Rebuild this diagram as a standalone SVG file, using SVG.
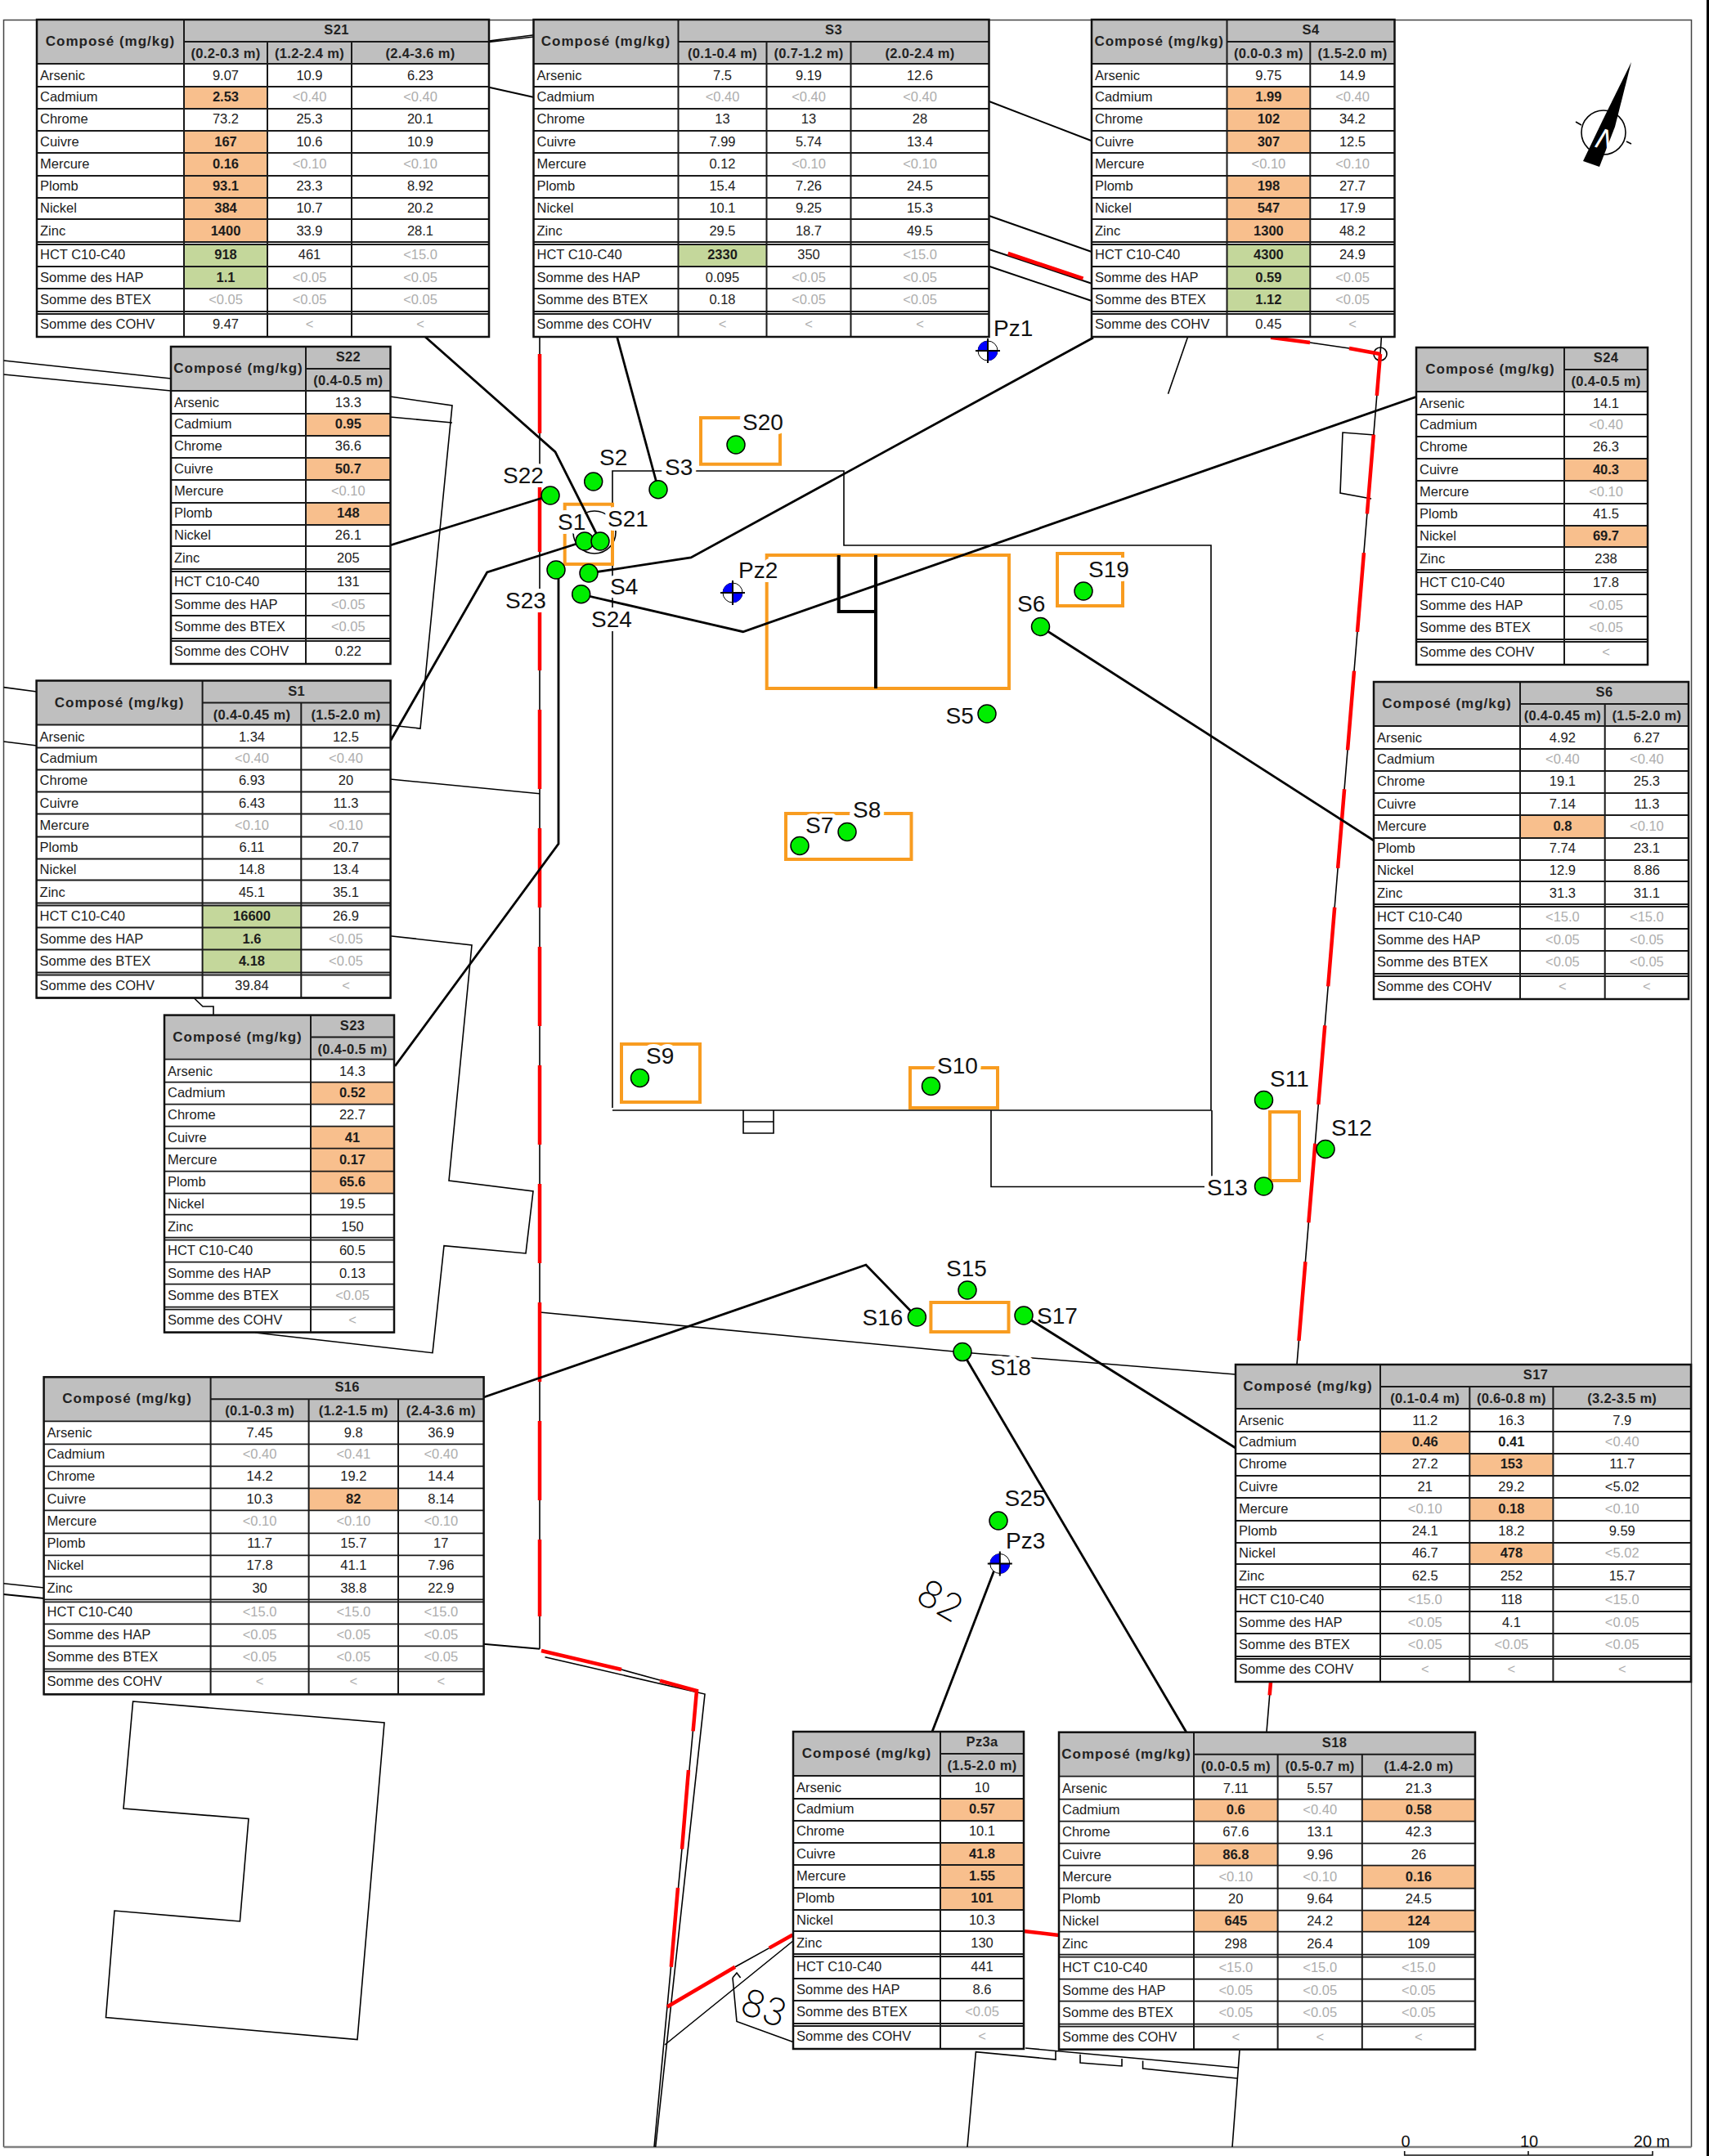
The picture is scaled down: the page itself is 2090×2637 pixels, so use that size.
<svg xmlns="http://www.w3.org/2000/svg" width="2090" height="2637" viewBox="0 0 2090 2637">
<style>
text{font-family:"Liberation Sans",Arial,sans-serif;fill:#1c1c1c}
.l{font-size:16.5px}
.v{font-size:16.5px;text-anchor:middle}
.g{font-size:16.5px;text-anchor:middle;fill:#adadad}
.b{font-size:16.5px;text-anchor:middle;font-weight:bold}
.h{font-size:17px;letter-spacing:1px;text-anchor:middle;font-weight:bold;fill:#222}
.s{font-size:16.5px;letter-spacing:.3px;text-anchor:middle;font-weight:bold;fill:#222}
.bg{fill:#fff}
.hd{fill:#bfbfbf}
.o{fill:#f8bf8d}
.k{fill:#c4d79b}
.bd{fill:none;stroke:#111;stroke-width:2.5}
.gl{fill:none;stroke:#1a1a1a;stroke-width:2}
.rl{fill:none;stroke:#1a1a1a;stroke-width:1.8;vector-effect:non-scaling-stroke}
.t{fill:none;stroke:#000;stroke-width:1.6}
.c{fill:none;stroke:#000;stroke-width:2.8}
.r{fill:none;stroke:#f00;stroke-width:4.5}
.a{fill:none;stroke:#f89c20;stroke-width:4}
.n{fill:#00ee00;stroke:#000;stroke-width:1.5}
.m{font-size:28px;fill:#111;stroke:#fff;stroke-width:10px;paint-order:stroke;stroke-linejoin:round}
.m2{font-size:28px;fill:#111}
.d{font-family:Inter,"Liberation Sans",sans-serif;font-weight:200;font-size:46px;fill:#000;text-anchor:middle}
.u{font-size:20px;fill:#111;text-anchor:middle}
</style>
<defs>
<path id="r" class="rl" d="M0 54H1M0 82H1M0 109H1M0 136H1M0 163H1M0 191H1M0 218H1M0 244H1M0 272H1M0 275H1M0 302H1M0 329H1M0 357H1M0 360H1M0 388H1"/>
<g id="pz"><circle r="12" fill="#fff" stroke="#000"/><path d="M0 0V-12A12 12 0 0 0 -12 0ZM0 0V12A12 12 0 0 0 12 0Z" fill="#00f"/><path d="M-15 0H15M0 -15V15" stroke="#000" stroke-width="2"/></g>
</defs>
<rect width="2090" height="2637" fill="#fff"/>
<g id="frame">
<path d="M4.5 2626V24.5H2068.5V2626" fill="none" stroke="#444" stroke-width="1.5"/>
<path d="M4.5 2626H2068.5" fill="none" stroke="#808080" stroke-width="2.5"/>
<rect x="2087" y="0" width="3" height="2637" fill="#000"/>
</g>
<g id="map">
<path class="t" d="M4.5 441L209 463M4.5 458L209 478M477 485L553 496L514 891L477 887M477 510L553 517"/>
<path class="t" d="M4.5 840.6L45 846M4.5 907L45 912M477 953L660 970.7"/>
<path class="t" d="M477 1144.7L577 1156L549 1444L652 1457L643 1533L543 1523.6L529 1654.7L312 1630"/>
<path class="t" d="M236.6 1220L248 1231H261V1241"/>
<path class="t" d="M4.5 1936.7L54 1942"/>
<path class="c" style="stroke-width:2" d="M4.5 1950L54 1955M591 2010.7L660 2016.7"/>
<path class="t" d="M598 50L653 42.7M598 51.5L653 45"/>
<path class="c" style="stroke-width:2" d="M598 106.7L653 119M1209.7 124L1335 172.3M1209.7 264L1335 308M1209.7 305L1335 346.7M1209.7 325.7L1335 368"/>
<path class="t" d="M1452.6 412L1428.5 481.7"/>
<path class="t" d="M1681 532L1642 529L1639 603L1677 610"/>
<path class="t" d="M162.6 2081L470 2107L437 2494.6L129.5 2467.6L140 2337L293.4 2350L304 2224.5L151 2212Z"/>
<path class="t" d="M749 1355V576H1032V667H1481V1358H749M1212 1358V1451.5H1473M1482 1358V1442"/>
<path class="t" d="M909 1358V1386H946V1358M909 1372H946"/>
<circle class="t" cx="727" cy="651" r="26"/>
<path class="t" d="M660 1605L1177 1654L1511 1681"/>
<path class="t" d="M660 412V2016.7M760 2042L807 2055M666.5 2026.7L862 2072L801.7 2626M852 2068L800 2626"/>
<path class="t" d="M1689.4 412L1688 433L1586 1669L1549 2118M1602 419L1650 426M1516 2507L1507 2626"/>
<circle class="t" cx="1688" cy="433" r="8"/>
<path class="t" d="M899 2405.8L940.7 2382.6M969.8 2374L813 2501"/>
<path class="t" d="M896 2419L901 2413L905.6 2419M896 2419L901 2472.5L969.8 2497.6"/>
<path class="t" d="M1254 2505L1514 2529M1513 2542L1397.6 2530V2520.5M1372 2518V2527L1321 2523V2512.7M1291 2509V2519L1193.4 2509.6L1183 2626"/>
<path class="a" d="M857 511H954V567.7H857Z"/>
<path class="a" d="M690.7 616.7H749V690H690.7Z"/>
<path class="a" d="M937.7 679H1234V842H937.7Z"/>
<path class="a" d="M1293 677H1373V741H1293Z"/>
<path class="a" d="M961 995H1114.5V1051H961Z"/>
<path class="a" d="M760 1277H856V1348H760Z"/>
<path class="a" d="M1113 1306H1220V1355H1113Z"/>
<path class="a" d="M1553 1360H1589V1444H1553Z"/>
<path class="a" d="M1138.4 1593H1233.5V1629H1138.4Z"/>
<path d="M1025.7 679V748H1071M1071 679V842" fill="none" stroke="#000" stroke-width="4"/>
<path class="r" d="M660 433V1977" stroke-dasharray="97 48"/>
<path class="r" d="M1688 433L1549 2118" stroke-dasharray="97 48" stroke-dashoffset="46"/>
<path class="r" d="M1554 412.7L1602 419M1650 426L1688 433M1232.7 310L1324.5 340.7M662 2019L760 2042M807 2055.6L852 2068L847.6 2117.4M842 2165L834 2261.6M829 2309L820.8 2405.8M816 2454.5L899 2405.8M940.7 2382.6L969.4 2366.5M1252 2362L1295 2367"/>
<text class="d" transform="translate(1150 1958) rotate(30)" y="16">82</text>
<text class="d" transform="translate(934 2456) rotate(20)" y="16">83</text>
</g>
<g id="labels-halo">
<text class="m" x="908" y="526">S20</text>
<text class="m" x="733" y="569">S2</text>
<text class="m" x="813" y="581">S3</text>
<text class="m" x="615" y="591">S22</text>
<text class="m" x="682" y="648">S1</text>
<text class="m" x="743" y="644">S21</text>
<text class="m" x="746" y="727">S4</text>
<text class="m" x="618" y="744">S23</text>
<text class="m" x="723" y="767">S24</text>
<text class="m" x="903" y="707">Pz2</text>
<text class="m" x="1215" y="411">Pz1</text>
<text class="m" x="1331" y="706">S19</text>
<text class="m" x="1244" y="748">S6</text>
<text class="m" x="1156.5" y="885">S5</text>
<text class="m" x="985" y="1019">S7</text>
<text class="m" x="1043" y="1000">S8</text>
<text class="m" x="790" y="1301">S9</text>
<text class="m" x="1146" y="1313">S10</text>
<text class="m" x="1553" y="1329">S11</text>
<text class="m" x="1628" y="1389">S12</text>
<text class="m" x="1476" y="1462">S13</text>
<text class="m" x="1157" y="1561">S15</text>
<text class="m" x="1054.5" y="1621">S16</text>
<text class="m" x="1268" y="1619">S17</text>
<text class="m" x="1211" y="1682">S18</text>
<text class="m2" x="1228.6" y="1842">S25</text>
<text class="m2" x="1230" y="1894">Pz3</text>
</g>
<g id="connectors">
<path class="c" d="M754.6 412L805 598"/>
<path class="c" d="M520 412L679 552.7L734 662"/>
<path class="c" d="M1337 413L845 682L720 701"/>
<path class="c" d="M477 667L673 606"/>
<path class="c" d="M477.7 905.7L595.7 700L715 662"/>
<path class="c" d="M483 1304L683 1032V697"/>
<path class="c" d="M1733 485L908.7 772.7L711 727"/>
<path class="c" d="M1272.5 766.5L1680 1028"/>
<path class="c" d="M591.5 1709L1059 1547L1121 1611"/>
<path class="c" d="M1252 1609L1511 1771"/>
<path class="c" d="M1177 1654L1451 2119"/>
<path class="c" d="M1216.5 1919L1140 2118"/>
</g>
<g id="nodes">
<g id="S20"><circle class="n" cx="900" cy="544" r="11"/></g>
<g id="S2"><circle class="n" cx="725.7" cy="589" r="11"/></g>
<g id="S3"><circle class="n" cx="805" cy="598.7" r="11"/></g>
<g id="S22"><circle class="n" cx="673" cy="606" r="11"/></g>
<g id="S1"><circle class="n" cx="715" cy="662" r="11"/></g>
<g id="S21"><circle class="n" cx="734" cy="662" r="11"/></g>
<g id="S23"><circle class="n" cx="680" cy="697" r="11"/></g>
<g id="S4"><circle class="n" cx="720" cy="701" r="11"/></g>
<g id="S24"><circle class="n" cx="710.7" cy="726.7" r="11"/></g>
<g id="S19"><circle class="n" cx="1325" cy="723" r="11"/></g>
<g id="S6"><circle class="n" cx="1272.5" cy="766.5" r="11"/></g>
<g id="S5"><circle class="n" cx="1207" cy="873" r="11"/></g>
<g id="S7"><circle class="n" cx="978" cy="1034.5" r="11"/></g>
<g id="S8"><circle class="n" cx="1036" cy="1017.5" r="11"/></g>
<g id="S9"><circle class="n" cx="782.5" cy="1318.5" r="11"/></g>
<g id="S10"><circle class="n" cx="1138.5" cy="1328.5" r="11"/></g>
<g id="S11"><circle class="n" cx="1545.5" cy="1345.5" r="11"/></g>
<g id="S12"><circle class="n" cx="1621" cy="1405.5" r="11"/></g>
<g id="S13"><circle class="n" cx="1545.5" cy="1451" r="11"/></g>
<g id="S15"><circle class="n" cx="1183" cy="1578" r="11"/></g>
<g id="S16"><circle class="n" cx="1121.4" cy="1611" r="11"/></g>
<g id="S17"><circle class="n" cx="1252" cy="1609" r="11"/></g>
<g id="S18"><circle class="n" cx="1177" cy="1653.6" r="11"/></g>
<g id="S25"><circle class="n" cx="1221" cy="1860" r="11"/></g>
<g id="Pz1"><use href="#pz" transform="translate(1208 429)"/></g>
<g id="Pz2"><use href="#pz" transform="translate(896 725)"/></g>
<g id="Pz3"><use href="#pz" transform="translate(1222.8 1912.5)"/></g>
</g>
<g id="north-arrow">
<circle class="t" cx="1961" cy="162" r="27"/>
<path class="t" d="M1927 149L1934 153M1989 173L1995 176"/>
<path d="M1995 76L1975 155L1956 204L1936 197L1960 147Z" fill="#000"/>
<text transform="translate(1949 179) rotate(20)" style="font-size:36px;font-style:italic;fill:#fff">N</text>
</g>
<g id="scale">
<path d="M1717.7 2631V2636H2021V2631M1869 2631V2636" fill="none" stroke="#111" stroke-width="1.6"/>
<text class="u" x="1719" y="2626">0</text>
<text class="u" x="1870" y="2626">10</text>
<text class="u" x="2020" y="2626">20 m</text>
</g>

<g id="table-S21" transform="translate(45 24)">
<rect class="bg" width="553" height="388"/><rect class="hd" width="553" height="54"/>
<rect class="o" x="180" y="82" width="102" height="27"/><rect class="o" x="180" y="136" width="102" height="27"/><rect class="o" x="180" y="163" width="102" height="28"/><rect class="o" x="180" y="191" width="102" height="27"/><rect class="o" x="180" y="218" width="102" height="26"/><rect class="o" x="180" y="244" width="102" height="28"/><rect class="k" x="180" y="275" width="102" height="27"/><rect class="k" x="180" y="302" width="102" height="27"/>
<use href="#r" transform="scale(553 1)"/><path class="gl" d="M180 0V388M282 27V388M385 27V388M180 27H553"/><rect class="bd" width="553" height="388"/>
<text class="h" x="90" y="32">Composé (mg/kg)</text><text class="s" x="366.5" y="18">S21</text>
<text class="s" x="231" y="47">(0.2-0.3 m)</text><text class="s" x="333.5" y="47">(1.2-2.4 m)</text><text class="s" x="469" y="47">(2.4-3.6 m)</text>
<text class="l" x="4" y="74">Arsenic</text><text class="v" x="231" y="74">9.07</text><text class="v" x="333.5" y="74">10.9</text><text class="v" x="469" y="74">6.23</text>
<text class="l" x="4" y="100">Cadmium</text><text class="b" x="231" y="100">2.53</text><text class="g" x="333.5" y="100">&lt;0.40</text><text class="g" x="469" y="100">&lt;0.40</text>
<text class="l" x="4" y="127">Chrome</text><text class="v" x="231" y="127">73.2</text><text class="v" x="333.5" y="127">25.3</text><text class="v" x="469" y="127">20.1</text>
<text class="l" x="4" y="155">Cuivre</text><text class="b" x="231" y="155">167</text><text class="v" x="333.5" y="155">10.6</text><text class="v" x="469" y="155">10.9</text>
<text class="l" x="4" y="182">Mercure</text><text class="b" x="231" y="182">0.16</text><text class="g" x="333.5" y="182">&lt;0.10</text><text class="g" x="469" y="182">&lt;0.10</text>
<text class="l" x="4" y="209">Plomb</text><text class="b" x="231" y="209">93.1</text><text class="v" x="333.5" y="209">23.3</text><text class="v" x="469" y="209">8.92</text>
<text class="l" x="4" y="236">Nickel</text><text class="b" x="231" y="236">384</text><text class="v" x="333.5" y="236">10.7</text><text class="v" x="469" y="236">20.2</text>
<text class="l" x="4" y="264">Zinc</text><text class="b" x="231" y="264">1400</text><text class="v" x="333.5" y="264">33.9</text><text class="v" x="469" y="264">28.1</text>
<text class="l" x="4" y="293">HCT C10-C40</text><text class="b" x="231" y="293">918</text><text class="v" x="333.5" y="293">461</text><text class="g" x="469" y="293">&lt;15.0</text>
<text class="l" x="4" y="321">Somme des HAP</text><text class="b" x="231" y="321">1.1</text><text class="g" x="333.5" y="321">&lt;0.05</text><text class="g" x="469" y="321">&lt;0.05</text>
<text class="l" x="4" y="348">Somme des BTEX</text><text class="g" x="231" y="348">&lt;0.05</text><text class="g" x="333.5" y="348">&lt;0.05</text><text class="g" x="469" y="348">&lt;0.05</text>
<text class="l" x="4" y="378">Somme des COHV</text><text class="v" x="231" y="378">9.47</text><text class="g" x="333.5" y="378">&lt;</text><text class="g" x="469" y="378">&lt;</text>
</g>

<g id="table-S3" transform="translate(652.5 24)">
<rect class="bg" width="557" height="388"/><rect class="hd" width="557" height="54"/>
<rect class="k" x="177" y="275" width="108" height="27"/>
<use href="#r" transform="scale(557 1)"/><path class="gl" d="M177 0V388M285 27V388M388 27V388M177 27H557"/><rect class="bd" width="557" height="388"/>
<text class="h" x="88.5" y="32">Composé (mg/kg)</text><text class="s" x="367" y="18">S3</text>
<text class="s" x="231" y="47">(0.1-0.4 m)</text><text class="s" x="336.5" y="47">(0.7-1.2 m)</text><text class="s" x="472.5" y="47">(2.0-2.4 m)</text>
<text class="l" x="4" y="74">Arsenic</text><text class="v" x="231" y="74">7.5</text><text class="v" x="336.5" y="74">9.19</text><text class="v" x="472.5" y="74">12.6</text>
<text class="l" x="4" y="100">Cadmium</text><text class="g" x="231" y="100">&lt;0.40</text><text class="g" x="336.5" y="100">&lt;0.40</text><text class="g" x="472.5" y="100">&lt;0.40</text>
<text class="l" x="4" y="127">Chrome</text><text class="v" x="231" y="127">13</text><text class="v" x="336.5" y="127">13</text><text class="v" x="472.5" y="127">28</text>
<text class="l" x="4" y="155">Cuivre</text><text class="v" x="231" y="155">7.99</text><text class="v" x="336.5" y="155">5.74</text><text class="v" x="472.5" y="155">13.4</text>
<text class="l" x="4" y="182">Mercure</text><text class="v" x="231" y="182">0.12</text><text class="g" x="336.5" y="182">&lt;0.10</text><text class="g" x="472.5" y="182">&lt;0.10</text>
<text class="l" x="4" y="209">Plomb</text><text class="v" x="231" y="209">15.4</text><text class="v" x="336.5" y="209">7.26</text><text class="v" x="472.5" y="209">24.5</text>
<text class="l" x="4" y="236">Nickel</text><text class="v" x="231" y="236">10.1</text><text class="v" x="336.5" y="236">9.25</text><text class="v" x="472.5" y="236">15.3</text>
<text class="l" x="4" y="264">Zinc</text><text class="v" x="231" y="264">29.5</text><text class="v" x="336.5" y="264">18.7</text><text class="v" x="472.5" y="264">49.5</text>
<text class="l" x="4" y="293">HCT C10-C40</text><text class="b" x="231" y="293">2330</text><text class="v" x="336.5" y="293">350</text><text class="g" x="472.5" y="293">&lt;15.0</text>
<text class="l" x="4" y="321">Somme des HAP</text><text class="v" x="231" y="321">0.095</text><text class="g" x="336.5" y="321">&lt;0.05</text><text class="g" x="472.5" y="321">&lt;0.05</text>
<text class="l" x="4" y="348">Somme des BTEX</text><text class="v" x="231" y="348">0.18</text><text class="g" x="336.5" y="348">&lt;0.05</text><text class="g" x="472.5" y="348">&lt;0.05</text>
<text class="l" x="4" y="378">Somme des COHV</text><text class="g" x="231" y="378">&lt;</text><text class="g" x="336.5" y="378">&lt;</text><text class="g" x="472.5" y="378">&lt;</text>
</g>

<g id="table-S4" transform="translate(1335 24)">
<rect class="bg" width="370.5" height="388"/><rect class="hd" width="370.5" height="54"/>
<rect class="o" x="165.5" y="82" width="102" height="27"/><rect class="o" x="165.5" y="109" width="102" height="27"/><rect class="o" x="165.5" y="136" width="102" height="27"/><rect class="o" x="165.5" y="191" width="102" height="27"/><rect class="o" x="165.5" y="218" width="102" height="26"/><rect class="o" x="165.5" y="244" width="102" height="28"/><rect class="k" x="165.5" y="275" width="102" height="27"/><rect class="k" x="165.5" y="302" width="102" height="27"/><rect class="k" x="165.5" y="329" width="102" height="28"/>
<use href="#r" transform="scale(370.5 1)"/><path class="gl" d="M165.5 0V388M267.3 27V388M165.5 27H370.5"/><rect class="bd" width="370.5" height="388"/>
<text class="h" x="82.7" y="32">Composé (mg/kg)</text><text class="s" x="268" y="18">S4</text>
<text class="s" x="216.4" y="47">(0.0-0.3 m)</text><text class="s" x="319" y="47">(1.5-2.0 m)</text>
<text class="l" x="4" y="74">Arsenic</text><text class="v" x="216.4" y="74">9.75</text><text class="v" x="319" y="74">14.9</text>
<text class="l" x="4" y="100">Cadmium</text><text class="b" x="216.4" y="100">1.99</text><text class="g" x="319" y="100">&lt;0.40</text>
<text class="l" x="4" y="127">Chrome</text><text class="b" x="216.4" y="127">102</text><text class="v" x="319" y="127">34.2</text>
<text class="l" x="4" y="155">Cuivre</text><text class="b" x="216.4" y="155">307</text><text class="v" x="319" y="155">12.5</text>
<text class="l" x="4" y="182">Mercure</text><text class="g" x="216.4" y="182">&lt;0.10</text><text class="g" x="319" y="182">&lt;0.10</text>
<text class="l" x="4" y="209">Plomb</text><text class="b" x="216.4" y="209">198</text><text class="v" x="319" y="209">27.7</text>
<text class="l" x="4" y="236">Nickel</text><text class="b" x="216.4" y="236">547</text><text class="v" x="319" y="236">17.9</text>
<text class="l" x="4" y="264">Zinc</text><text class="b" x="216.4" y="264">1300</text><text class="v" x="319" y="264">48.2</text>
<text class="l" x="4" y="293">HCT C10-C40</text><text class="b" x="216.4" y="293">4300</text><text class="v" x="319" y="293">24.9</text>
<text class="l" x="4" y="321">Somme des HAP</text><text class="b" x="216.4" y="321">0.59</text><text class="g" x="319" y="321">&lt;0.05</text>
<text class="l" x="4" y="348">Somme des BTEX</text><text class="b" x="216.4" y="348">1.12</text><text class="g" x="319" y="348">&lt;0.05</text>
<text class="l" x="4" y="378">Somme des COHV</text><text class="v" x="216.4" y="378">0.45</text><text class="g" x="319" y="378">&lt;</text>
</g>

<g id="table-S22" transform="translate(209 424)">
<rect class="bg" width="268.5" height="388"/><rect class="hd" width="268.5" height="54"/>
<rect class="o" x="165" y="82" width="103.5" height="27"/><rect class="o" x="165" y="136" width="103.5" height="27"/><rect class="o" x="165" y="191" width="103.5" height="27"/>
<use href="#r" transform="scale(268.5 1)"/><path class="gl" d="M165 0V388M165 27H268.5"/><rect class="bd" width="268.5" height="388"/>
<text class="h" x="82.5" y="32">Composé (mg/kg)</text><text class="s" x="216.8" y="18">S22</text>
<text class="s" x="216.8" y="47">(0.4-0.5 m)</text>
<text class="l" x="4" y="74">Arsenic</text><text class="v" x="216.8" y="74">13.3</text>
<text class="l" x="4" y="100">Cadmium</text><text class="b" x="216.8" y="100">0.95</text>
<text class="l" x="4" y="127">Chrome</text><text class="v" x="216.8" y="127">36.6</text>
<text class="l" x="4" y="155">Cuivre</text><text class="b" x="216.8" y="155">50.7</text>
<text class="l" x="4" y="182">Mercure</text><text class="g" x="216.8" y="182">&lt;0.10</text>
<text class="l" x="4" y="209">Plomb</text><text class="b" x="216.8" y="209">148</text>
<text class="l" x="4" y="236">Nickel</text><text class="v" x="216.8" y="236">26.1</text>
<text class="l" x="4" y="264">Zinc</text><text class="v" x="216.8" y="264">205</text>
<text class="l" x="4" y="293">HCT C10-C40</text><text class="v" x="216.8" y="293">131</text>
<text class="l" x="4" y="321">Somme des HAP</text><text class="g" x="216.8" y="321">&lt;0.05</text>
<text class="l" x="4" y="348">Somme des BTEX</text><text class="g" x="216.8" y="348">&lt;0.05</text>
<text class="l" x="4" y="378">Somme des COHV</text><text class="v" x="216.8" y="378">0.22</text>
</g>

<g id="table-S24" transform="translate(1732 425)">
<rect class="bg" width="283" height="388"/><rect class="hd" width="283" height="54"/>
<rect class="o" x="181" y="136" width="102" height="27"/><rect class="o" x="181" y="218" width="102" height="26"/>
<use href="#r" transform="scale(283 1)"/><path class="gl" d="M181 0V388M181 27H283"/><rect class="bd" width="283" height="388"/>
<text class="h" x="90.5" y="32">Composé (mg/kg)</text><text class="s" x="232" y="18">S24</text>
<text class="s" x="232" y="47">(0.4-0.5 m)</text>
<text class="l" x="4" y="74">Arsenic</text><text class="v" x="232" y="74">14.1</text>
<text class="l" x="4" y="100">Cadmium</text><text class="g" x="232" y="100">&lt;0.40</text>
<text class="l" x="4" y="127">Chrome</text><text class="v" x="232" y="127">26.3</text>
<text class="l" x="4" y="155">Cuivre</text><text class="b" x="232" y="155">40.3</text>
<text class="l" x="4" y="182">Mercure</text><text class="g" x="232" y="182">&lt;0.10</text>
<text class="l" x="4" y="209">Plomb</text><text class="v" x="232" y="209">41.5</text>
<text class="l" x="4" y="236">Nickel</text><text class="b" x="232" y="236">69.7</text>
<text class="l" x="4" y="264">Zinc</text><text class="v" x="232" y="264">238</text>
<text class="l" x="4" y="293">HCT C10-C40</text><text class="v" x="232" y="293">17.8</text>
<text class="l" x="4" y="321">Somme des HAP</text><text class="g" x="232" y="321">&lt;0.05</text>
<text class="l" x="4" y="348">Somme des BTEX</text><text class="g" x="232" y="348">&lt;0.05</text>
<text class="l" x="4" y="378">Somme des COHV</text><text class="g" x="232" y="378">&lt;</text>
</g>

<g id="table-S1" transform="translate(44.6 832.5)">
<rect class="bg" width="433" height="388"/><rect class="hd" width="433" height="54"/>
<rect class="k" x="203" y="275" width="120.7" height="27"/><rect class="k" x="203" y="302" width="120.7" height="27"/><rect class="k" x="203" y="329" width="120.7" height="28"/>
<use href="#r" transform="scale(433 1)"/><path class="gl" d="M203 0V388M323.7 27V388M203 27H433"/><rect class="bd" width="433" height="388"/>
<text class="h" x="101.5" y="32">Composé (mg/kg)</text><text class="s" x="318" y="18">S1</text>
<text class="s" x="263.4" y="47">(0.4-0.45 m)</text><text class="s" x="378.4" y="47">(1.5-2.0 m)</text>
<text class="l" x="4" y="74">Arsenic</text><text class="v" x="263.4" y="74">1.34</text><text class="v" x="378.4" y="74">12.5</text>
<text class="l" x="4" y="100">Cadmium</text><text class="g" x="263.4" y="100">&lt;0.40</text><text class="g" x="378.4" y="100">&lt;0.40</text>
<text class="l" x="4" y="127">Chrome</text><text class="v" x="263.4" y="127">6.93</text><text class="v" x="378.4" y="127">20</text>
<text class="l" x="4" y="155">Cuivre</text><text class="v" x="263.4" y="155">6.43</text><text class="v" x="378.4" y="155">11.3</text>
<text class="l" x="4" y="182">Mercure</text><text class="g" x="263.4" y="182">&lt;0.10</text><text class="g" x="378.4" y="182">&lt;0.10</text>
<text class="l" x="4" y="209">Plomb</text><text class="v" x="263.4" y="209">6.11</text><text class="v" x="378.4" y="209">20.7</text>
<text class="l" x="4" y="236">Nickel</text><text class="v" x="263.4" y="236">14.8</text><text class="v" x="378.4" y="236">13.4</text>
<text class="l" x="4" y="264">Zinc</text><text class="v" x="263.4" y="264">45.1</text><text class="v" x="378.4" y="264">35.1</text>
<text class="l" x="4" y="293">HCT C10-C40</text><text class="b" x="263.4" y="293">16600</text><text class="v" x="378.4" y="293">26.9</text>
<text class="l" x="4" y="321">Somme des HAP</text><text class="b" x="263.4" y="321">1.6</text><text class="g" x="378.4" y="321">&lt;0.05</text>
<text class="l" x="4" y="348">Somme des BTEX</text><text class="b" x="263.4" y="348">4.18</text><text class="g" x="378.4" y="348">&lt;0.05</text>
<text class="l" x="4" y="378">Somme des COHV</text><text class="v" x="263.4" y="378">39.84</text><text class="g" x="378.4" y="378">&lt;</text>
</g>

<g id="table-S23" transform="translate(201 1241.6)">
<rect class="bg" width="281" height="388"/><rect class="hd" width="281" height="54"/>
<rect class="o" x="179" y="82" width="102" height="27"/><rect class="o" x="179" y="136" width="102" height="27"/><rect class="o" x="179" y="163" width="102" height="28"/><rect class="o" x="179" y="191" width="102" height="27"/>
<use href="#r" transform="scale(281 1)"/><path class="gl" d="M179 0V388M179 27H281"/><rect class="bd" width="281" height="388"/>
<text class="h" x="89.5" y="32">Composé (mg/kg)</text><text class="s" x="230" y="18">S23</text>
<text class="s" x="230" y="47">(0.4-0.5 m)</text>
<text class="l" x="4" y="74">Arsenic</text><text class="v" x="230" y="74">14.3</text>
<text class="l" x="4" y="100">Cadmium</text><text class="b" x="230" y="100">0.52</text>
<text class="l" x="4" y="127">Chrome</text><text class="v" x="230" y="127">22.7</text>
<text class="l" x="4" y="155">Cuivre</text><text class="b" x="230" y="155">41</text>
<text class="l" x="4" y="182">Mercure</text><text class="b" x="230" y="182">0.17</text>
<text class="l" x="4" y="209">Plomb</text><text class="b" x="230" y="209">65.6</text>
<text class="l" x="4" y="236">Nickel</text><text class="v" x="230" y="236">19.5</text>
<text class="l" x="4" y="264">Zinc</text><text class="v" x="230" y="264">150</text>
<text class="l" x="4" y="293">HCT C10-C40</text><text class="v" x="230" y="293">60.5</text>
<text class="l" x="4" y="321">Somme des HAP</text><text class="v" x="230" y="321">0.13</text>
<text class="l" x="4" y="348">Somme des BTEX</text><text class="g" x="230" y="348">&lt;0.05</text>
<text class="l" x="4" y="378">Somme des COHV</text><text class="g" x="230" y="378">&lt;</text>
</g>

<g id="table-S16" transform="translate(53.6 1684.3)">
<rect class="bg" width="538" height="388"/><rect class="hd" width="538" height="54"/>
<rect class="o" x="324" y="136" width="109.4" height="27"/>
<use href="#r" transform="scale(538 1)"/><path class="gl" d="M204 0V388M324 27V388M433.4 27V388M204 27H538"/><rect class="bd" width="538" height="388"/>
<text class="h" x="102" y="32">Composé (mg/kg)</text><text class="s" x="371" y="18">S16</text>
<text class="s" x="264" y="47">(0.1-0.3 m)</text><text class="s" x="378.7" y="47">(1.2-1.5 m)</text><text class="s" x="485.7" y="47">(2.4-3.6 m)</text>
<text class="l" x="4" y="74">Arsenic</text><text class="v" x="264" y="74">7.45</text><text class="v" x="378.7" y="74">9.8</text><text class="v" x="485.7" y="74">36.9</text>
<text class="l" x="4" y="100">Cadmium</text><text class="g" x="264" y="100">&lt;0.40</text><text class="g" x="378.7" y="100">&lt;0.41</text><text class="g" x="485.7" y="100">&lt;0.40</text>
<text class="l" x="4" y="127">Chrome</text><text class="v" x="264" y="127">14.2</text><text class="v" x="378.7" y="127">19.2</text><text class="v" x="485.7" y="127">14.4</text>
<text class="l" x="4" y="155">Cuivre</text><text class="v" x="264" y="155">10.3</text><text class="b" x="378.7" y="155">82</text><text class="v" x="485.7" y="155">8.14</text>
<text class="l" x="4" y="182">Mercure</text><text class="g" x="264" y="182">&lt;0.10</text><text class="g" x="378.7" y="182">&lt;0.10</text><text class="g" x="485.7" y="182">&lt;0.10</text>
<text class="l" x="4" y="209">Plomb</text><text class="v" x="264" y="209">11.7</text><text class="v" x="378.7" y="209">15.7</text><text class="v" x="485.7" y="209">17</text>
<text class="l" x="4" y="236">Nickel</text><text class="v" x="264" y="236">17.8</text><text class="v" x="378.7" y="236">41.1</text><text class="v" x="485.7" y="236">7.96</text>
<text class="l" x="4" y="264">Zinc</text><text class="v" x="264" y="264">30</text><text class="v" x="378.7" y="264">38.8</text><text class="v" x="485.7" y="264">22.9</text>
<text class="l" x="4" y="293">HCT C10-C40</text><text class="g" x="264" y="293">&lt;15.0</text><text class="g" x="378.7" y="293">&lt;15.0</text><text class="g" x="485.7" y="293">&lt;15.0</text>
<text class="l" x="4" y="321">Somme des HAP</text><text class="g" x="264" y="321">&lt;0.05</text><text class="g" x="378.7" y="321">&lt;0.05</text><text class="g" x="485.7" y="321">&lt;0.05</text>
<text class="l" x="4" y="348">Somme des BTEX</text><text class="g" x="264" y="348">&lt;0.05</text><text class="g" x="378.7" y="348">&lt;0.05</text><text class="g" x="485.7" y="348">&lt;0.05</text>
<text class="l" x="4" y="378">Somme des COHV</text><text class="g" x="264" y="378">&lt;</text><text class="g" x="378.7" y="378">&lt;</text><text class="g" x="485.7" y="378">&lt;</text>
</g>

<g id="table-S6" transform="translate(1680 834)">
<rect class="bg" width="385" height="388"/><rect class="hd" width="385" height="54"/>
<rect class="o" x="179" y="163" width="103.7" height="28"/>
<use href="#r" transform="scale(385 1)"/><path class="gl" d="M179 0V388M282.7 27V388M179 27H385"/><rect class="bd" width="385" height="388"/>
<text class="h" x="89.5" y="32">Composé (mg/kg)</text><text class="s" x="282" y="18">S6</text>
<text class="s" x="230.9" y="47">(0.4-0.45 m)</text><text class="s" x="333.9" y="47">(1.5-2.0 m)</text>
<text class="l" x="4" y="74">Arsenic</text><text class="v" x="230.9" y="74">4.92</text><text class="v" x="333.9" y="74">6.27</text>
<text class="l" x="4" y="100">Cadmium</text><text class="g" x="230.9" y="100">&lt;0.40</text><text class="g" x="333.9" y="100">&lt;0.40</text>
<text class="l" x="4" y="127">Chrome</text><text class="v" x="230.9" y="127">19.1</text><text class="v" x="333.9" y="127">25.3</text>
<text class="l" x="4" y="155">Cuivre</text><text class="v" x="230.9" y="155">7.14</text><text class="v" x="333.9" y="155">11.3</text>
<text class="l" x="4" y="182">Mercure</text><text class="b" x="230.9" y="182">0.8</text><text class="g" x="333.9" y="182">&lt;0.10</text>
<text class="l" x="4" y="209">Plomb</text><text class="v" x="230.9" y="209">7.74</text><text class="v" x="333.9" y="209">23.1</text>
<text class="l" x="4" y="236">Nickel</text><text class="v" x="230.9" y="236">12.9</text><text class="v" x="333.9" y="236">8.86</text>
<text class="l" x="4" y="264">Zinc</text><text class="v" x="230.9" y="264">31.3</text><text class="v" x="333.9" y="264">31.1</text>
<text class="l" x="4" y="293">HCT C10-C40</text><text class="g" x="230.9" y="293">&lt;15.0</text><text class="g" x="333.9" y="293">&lt;15.0</text>
<text class="l" x="4" y="321">Somme des HAP</text><text class="g" x="230.9" y="321">&lt;0.05</text><text class="g" x="333.9" y="321">&lt;0.05</text>
<text class="l" x="4" y="348">Somme des BTEX</text><text class="g" x="230.9" y="348">&lt;0.05</text><text class="g" x="333.9" y="348">&lt;0.05</text>
<text class="l" x="4" y="378">Somme des COHV</text><text class="g" x="230.9" y="378">&lt;</text><text class="g" x="333.9" y="378">&lt;</text>
</g>

<g id="table-S17" transform="translate(1511 1669)">
<rect class="bg" width="557" height="388"/><rect class="hd" width="557" height="54"/>
<rect class="o" x="177" y="82" width="109.3" height="27"/><rect class="o" x="286.3" y="109" width="102.1" height="27"/><rect class="o" x="286.3" y="163" width="102.1" height="28"/><rect class="o" x="286.3" y="218" width="102.1" height="26"/>
<use href="#r" transform="scale(557 1)"/><path class="gl" d="M177 0V388M286.3 27V388M388.4 27V388M177 27H557"/><rect class="bd" width="557" height="388"/>
<text class="h" x="88.5" y="32">Composé (mg/kg)</text><text class="s" x="367" y="18">S17</text>
<text class="s" x="231.7" y="47">(0.1-0.4 m)</text><text class="s" x="337.4" y="47">(0.6-0.8 m)</text><text class="s" x="472.7" y="47">(3.2-3.5 m)</text>
<text class="l" x="4" y="74">Arsenic</text><text class="v" x="231.7" y="74">11.2</text><text class="v" x="337.4" y="74">16.3</text><text class="v" x="472.7" y="74">7.9</text>
<text class="l" x="4" y="100">Cadmium</text><text class="b" x="231.7" y="100">0.46</text><text class="b" x="337.4" y="100">0.41</text><text class="g" x="472.7" y="100">&lt;0.40</text>
<text class="l" x="4" y="127">Chrome</text><text class="v" x="231.7" y="127">27.2</text><text class="b" x="337.4" y="127">153</text><text class="v" x="472.7" y="127">11.7</text>
<text class="l" x="4" y="155">Cuivre</text><text class="v" x="231.7" y="155">21</text><text class="v" x="337.4" y="155">29.2</text><text class="v" x="472.7" y="155">&lt;5.02</text>
<text class="l" x="4" y="182">Mercure</text><text class="g" x="231.7" y="182">&lt;0.10</text><text class="b" x="337.4" y="182">0.18</text><text class="g" x="472.7" y="182">&lt;0.10</text>
<text class="l" x="4" y="209">Plomb</text><text class="v" x="231.7" y="209">24.1</text><text class="v" x="337.4" y="209">18.2</text><text class="v" x="472.7" y="209">9.59</text>
<text class="l" x="4" y="236">Nickel</text><text class="v" x="231.7" y="236">46.7</text><text class="b" x="337.4" y="236">478</text><text class="g" x="472.7" y="236">&lt;5.02</text>
<text class="l" x="4" y="264">Zinc</text><text class="v" x="231.7" y="264">62.5</text><text class="v" x="337.4" y="264">252</text><text class="v" x="472.7" y="264">15.7</text>
<text class="l" x="4" y="293">HCT C10-C40</text><text class="g" x="231.7" y="293">&lt;15.0</text><text class="v" x="337.4" y="293">118</text><text class="g" x="472.7" y="293">&lt;15.0</text>
<text class="l" x="4" y="321">Somme des HAP</text><text class="g" x="231.7" y="321">&lt;0.05</text><text class="v" x="337.4" y="321">4.1</text><text class="g" x="472.7" y="321">&lt;0.05</text>
<text class="l" x="4" y="348">Somme des BTEX</text><text class="g" x="231.7" y="348">&lt;0.05</text><text class="g" x="337.4" y="348">&lt;0.05</text><text class="g" x="472.7" y="348">&lt;0.05</text>
<text class="l" x="4" y="378">Somme des COHV</text><text class="g" x="231.7" y="378">&lt;</text><text class="g" x="337.4" y="378">&lt;</text><text class="g" x="472.7" y="378">&lt;</text>
</g>

<g id="table-Pz3a" transform="translate(970 2118)">
<rect class="bg" width="282" height="388"/><rect class="hd" width="282" height="54"/>
<rect class="o" x="180" y="82" width="102" height="27"/><rect class="o" x="180" y="136" width="102" height="27"/><rect class="o" x="180" y="163" width="102" height="28"/><rect class="o" x="180" y="191" width="102" height="27"/>
<use href="#r" transform="scale(282 1)"/><path class="gl" d="M180 0V388M180 27H282"/><rect class="bd" width="282" height="388"/>
<text class="h" x="90" y="32">Composé (mg/kg)</text><text class="s" x="231" y="18">Pz3a</text>
<text class="s" x="231" y="47">(1.5-2.0 m)</text>
<text class="l" x="4" y="74">Arsenic</text><text class="v" x="231" y="74">10</text>
<text class="l" x="4" y="100">Cadmium</text><text class="b" x="231" y="100">0.57</text>
<text class="l" x="4" y="127">Chrome</text><text class="v" x="231" y="127">10.1</text>
<text class="l" x="4" y="155">Cuivre</text><text class="b" x="231" y="155">41.8</text>
<text class="l" x="4" y="182">Mercure</text><text class="b" x="231" y="182">1.55</text>
<text class="l" x="4" y="209">Plomb</text><text class="b" x="231" y="209">101</text>
<text class="l" x="4" y="236">Nickel</text><text class="v" x="231" y="236">10.3</text>
<text class="l" x="4" y="264">Zinc</text><text class="v" x="231" y="264">130</text>
<text class="l" x="4" y="293">HCT C10-C40</text><text class="v" x="231" y="293">441</text>
<text class="l" x="4" y="321">Somme des HAP</text><text class="v" x="231" y="321">8.6</text>
<text class="l" x="4" y="348">Somme des BTEX</text><text class="g" x="231" y="348">&lt;0.05</text>
<text class="l" x="4" y="378">Somme des COHV</text><text class="g" x="231" y="378">&lt;</text>
</g>

<g id="table-S18" transform="translate(1295 2118.7)">
<rect class="bg" width="509" height="388"/><rect class="hd" width="509" height="54"/>
<rect class="o" x="165" y="82" width="102.6" height="27"/><rect class="o" x="370.8" y="82" width="138.2" height="27"/><rect class="o" x="165" y="136" width="102.6" height="27"/><rect class="o" x="370.8" y="163" width="138.2" height="28"/><rect class="o" x="165" y="218" width="102.6" height="26"/><rect class="o" x="370.8" y="218" width="138.2" height="26"/>
<use href="#r" transform="scale(509 1)"/><path class="gl" d="M165 0V388M267.6 27V388M370.8 27V388M165 27H509"/><rect class="bd" width="509" height="388"/>
<text class="h" x="82.5" y="32">Composé (mg/kg)</text><text class="s" x="337" y="18">S18</text>
<text class="s" x="216.3" y="47">(0.0-0.5 m)</text><text class="s" x="319.2" y="47">(0.5-0.7 m)</text><text class="s" x="439.9" y="47">(1.4-2.0 m)</text>
<text class="l" x="4" y="74">Arsenic</text><text class="v" x="216.3" y="74">7.11</text><text class="v" x="319.2" y="74">5.57</text><text class="v" x="439.9" y="74">21.3</text>
<text class="l" x="4" y="100">Cadmium</text><text class="b" x="216.3" y="100">0.6</text><text class="g" x="319.2" y="100">&lt;0.40</text><text class="b" x="439.9" y="100">0.58</text>
<text class="l" x="4" y="127">Chrome</text><text class="v" x="216.3" y="127">67.6</text><text class="v" x="319.2" y="127">13.1</text><text class="v" x="439.9" y="127">42.3</text>
<text class="l" x="4" y="155">Cuivre</text><text class="b" x="216.3" y="155">86.8</text><text class="v" x="319.2" y="155">9.96</text><text class="v" x="439.9" y="155">26</text>
<text class="l" x="4" y="182">Mercure</text><text class="g" x="216.3" y="182">&lt;0.10</text><text class="g" x="319.2" y="182">&lt;0.10</text><text class="b" x="439.9" y="182">0.16</text>
<text class="l" x="4" y="209">Plomb</text><text class="v" x="216.3" y="209">20</text><text class="v" x="319.2" y="209">9.64</text><text class="v" x="439.9" y="209">24.5</text>
<text class="l" x="4" y="236">Nickel</text><text class="b" x="216.3" y="236">645</text><text class="v" x="319.2" y="236">24.2</text><text class="b" x="439.9" y="236">124</text>
<text class="l" x="4" y="264">Zinc</text><text class="v" x="216.3" y="264">298</text><text class="v" x="319.2" y="264">26.4</text><text class="v" x="439.9" y="264">109</text>
<text class="l" x="4" y="293">HCT C10-C40</text><text class="g" x="216.3" y="293">&lt;15.0</text><text class="g" x="319.2" y="293">&lt;15.0</text><text class="g" x="439.9" y="293">&lt;15.0</text>
<text class="l" x="4" y="321">Somme des HAP</text><text class="g" x="216.3" y="321">&lt;0.05</text><text class="g" x="319.2" y="321">&lt;0.05</text><text class="g" x="439.9" y="321">&lt;0.05</text>
<text class="l" x="4" y="348">Somme des BTEX</text><text class="g" x="216.3" y="348">&lt;0.05</text><text class="g" x="319.2" y="348">&lt;0.05</text><text class="g" x="439.9" y="348">&lt;0.05</text>
<text class="l" x="4" y="378">Somme des COHV</text><text class="g" x="216.3" y="378">&lt;</text><text class="g" x="319.2" y="378">&lt;</text><text class="g" x="439.9" y="378">&lt;</text>
</g>
</svg>
